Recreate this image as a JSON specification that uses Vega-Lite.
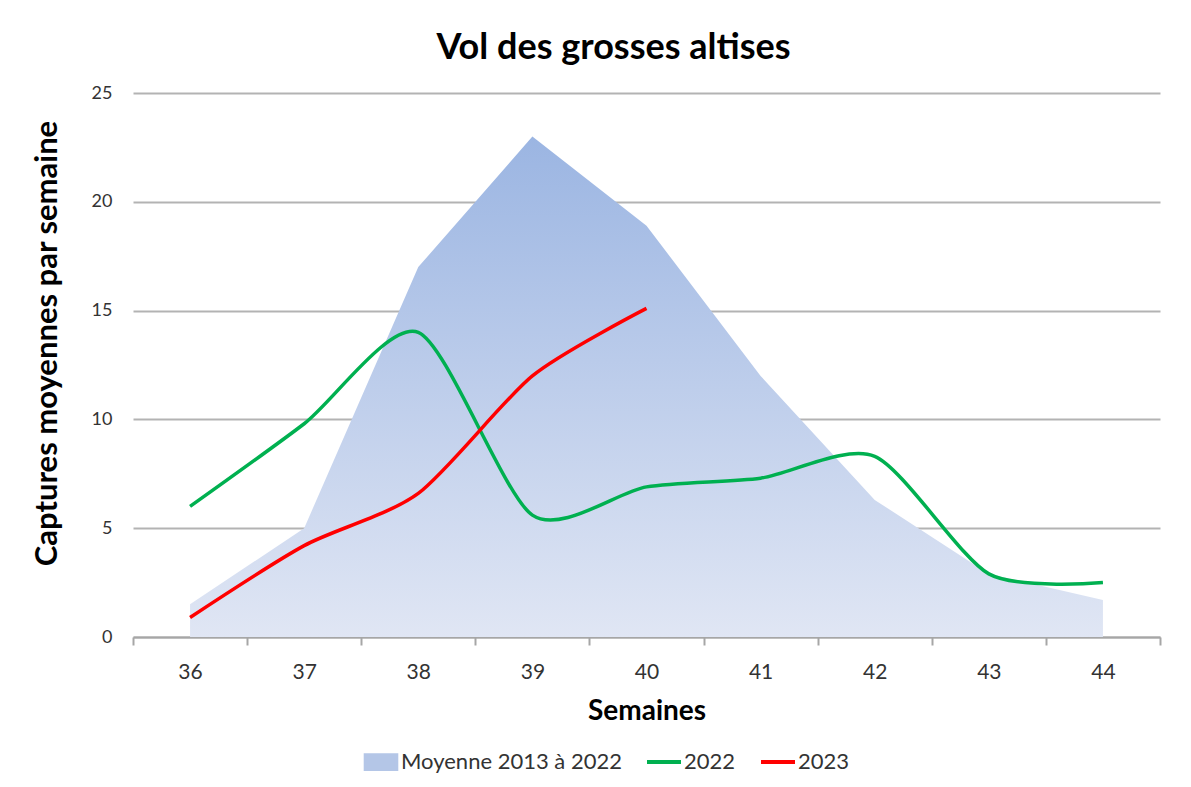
{
  "$schema": "https://vega.github.io/schema/vega-lite/v6.json",
  "width": 1027,
  "height": 544,
  "autosize": {"type": "none"},
  "padding": {"left": 133, "top": 93, "right": 31, "bottom": 150},
  "background": "white",
  "config": {
    "view": {"stroke": null},
    "font": "Lato"
  },
  "title": {
    "text": "Vol des grosses altises",
    "anchor": "middle",
    "frame": "group",
    "dx": -33,
    "fontSize": 36,
    "font": "Lato",
    "fontWeight": "bold",
    "color": "#000000",
    "offset": 17
  },
  "data": {
    "values": [
      {"semaine": "36", "serie": "Moyenne 2013 à 2022", "captures": 1.5},
      {"semaine": "37", "serie": "Moyenne 2013 à 2022", "captures": 5.0},
      {"semaine": "38", "serie": "Moyenne 2013 à 2022", "captures": 17.0},
      {"semaine": "39", "serie": "Moyenne 2013 à 2022", "captures": 23.0},
      {"semaine": "40", "serie": "Moyenne 2013 à 2022", "captures": 18.9},
      {"semaine": "41", "serie": "Moyenne 2013 à 2022", "captures": 12.0},
      {"semaine": "42", "serie": "Moyenne 2013 à 2022", "captures": 6.3},
      {"semaine": "43", "serie": "Moyenne 2013 à 2022", "captures": 2.9},
      {"semaine": "44", "serie": "Moyenne 2013 à 2022", "captures": 1.7},
      {"semaine": "36", "serie": "2022", "captures": 6.0},
      {"semaine": "37", "serie": "2022", "captures": 9.8},
      {"semaine": "38", "serie": "2022", "captures": 14.0},
      {"semaine": "39", "serie": "2022", "captures": 5.6},
      {"semaine": "40", "serie": "2022", "captures": 6.9},
      {"semaine": "41", "serie": "2022", "captures": 7.3},
      {"semaine": "42", "serie": "2022", "captures": 8.3},
      {"semaine": "43", "serie": "2022", "captures": 2.9},
      {"semaine": "44", "serie": "2022", "captures": 2.5},
      {"semaine": "36", "serie": "2023", "captures": 0.9},
      {"semaine": "37", "serie": "2023", "captures": 4.2},
      {"semaine": "38", "serie": "2023", "captures": 6.6},
      {"semaine": "39", "serie": "2023", "captures": 12.0},
      {"semaine": "40", "serie": "2023", "captures": 15.1}
    ]
  },
  "encoding": {
    "x": {
      "field": "semaine",
      "type": "ordinal",
      "bandPosition": 0.5,
      "scale": {"type": "band", "paddingInner": 0, "paddingOuter": 0},
      "axis": {
        "title": "Semaines",
        "titleFont": "Lato",
        "titleFontSize": 28,
        "titleFontWeight": "bold",
        "titleColor": "#000000",
        "titlePadding": 15,
        "labelAngle": 0,
        "labelFont": "Lato",
        "labelFontSize": 21,
        "labelColor": "#333333",
        "labelPadding": 16,
        "tickBand": "extent",
        "tickSize": 8,
        "tickColor": "#a6a6a6",
        "tickWidth": 2,
        "domainColor": "#a6a6a6",
        "domainWidth": 2,
        "grid": false
      }
    },
    "y": {
      "field": "captures",
      "type": "quantitative",
      "scale": {"domain": [0, 25], "nice": false, "zero": true},
      "axis": {
        "title": "Captures moyennes par semaine",
        "titleFont": "Lato",
        "titleFontSize": 31,
        "titleFontWeight": "bold",
        "titleColor": "#000000",
        "titlePadding": 28,
        "titleY": 250,
        "values": [0, 5, 10, 15, 20, 25],
        "labelFont": "Lato",
        "labelFontSize": 18,
        "labelColor": "#333333",
        "labelPadding": 21,
        "ticks": false,
        "domain": false,
        "grid": true,
        "gridColor": "#b3b3b3",
        "gridWidth": 2
      }
    }
  },
  "layer": [
    {
      "transform": [{"filter": "datum.serie === 'Moyenne 2013 à 2022'"}],
      "mark": {
        "type": "area",
        "interpolate": "linear",
        "color": {
          "gradient": "linear",
          "x1": 0, "y1": 0, "x2": 0, "y2": 1,
          "stops": [
            {"offset": 0, "color": "#9bb5e2"},
            {"offset": 1, "color": "#e0e6f4"}
          ]
        },
        "opacity": 1
      }
    },
    {
      "transform": [{"filter": "datum.serie !== 'Moyenne 2013 à 2022'"}],
      "mark": {"type": "line", "interpolate": "cardinal", "tension": 0.25, "strokeWidth": 3.5},
      "encoding": {
        "color": {
          "field": "serie",
          "type": "nominal",
          "scale": {
            "domain": ["Moyenne 2013 à 2022", "2022", "2023"],
            "range": ["#b4c6e7", "#00b050", "#ff0000"]
          },
          "legend": {
            "title": null,
            "orient": "none",
            "direction": "horizontal",
            "legendX": 229,
            "legendY": 650,
            "symbolSize": 1156,
            "labelFont": "Lato",
            "labelFontSize": 22,
            "labelColor": "#333333",
            "labelOffset": 1,
            "labelLimit": 400,
            "columnPadding": 17,
            "encode": {
              "symbols": {
                "update": {
                  "shape": {"signal": "datum.value === 'Moyenne 2013 à 2022' ? 'M-0.9,-0.4H0.9V0.4H-0.9Z' : 'M-1,-0.4L-1,-0.4M-1,0.4L-1,0.4M-1,0H1'"},
                  "fill": {"signal": "datum.value === 'Moyenne 2013 à 2022' ? '#b4c6e7' : 'transparent'"},
                  "stroke": {"signal": "datum.value === 'Moyenne 2013 à 2022' ? 'transparent' : (datum.value === '2022' ? '#00b050' : '#ff0000')"},
                  "strokeWidth": {"value": 4},
                  "opacity": {"value": 1}
                }
              }
            }
          }
        }
      }
    }
  ]
}
